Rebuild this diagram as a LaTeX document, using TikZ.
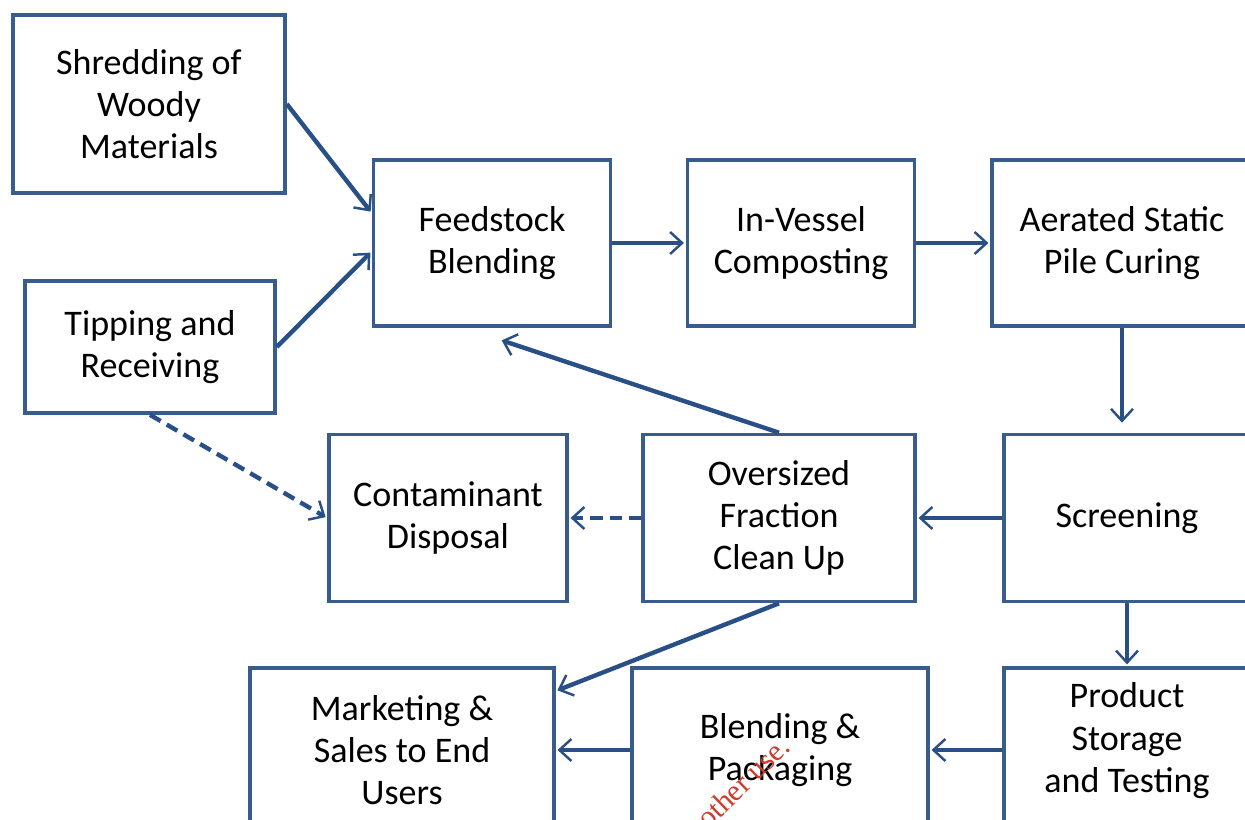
\documentclass[tikz,border=0pt]{standalone}
\usepackage{fontspec}
\setmainfont{Carlito}
\newfontfamily\markfont{Liberation Serif}
\usetikzlibrary{arrows.meta}
\definecolor{boxblue}{RGB}{56,93,140}
\definecolor{flowblue}{RGB}{40,80,135}
\definecolor{markred}{RGB}{205,60,45}

\begin{document}
\begin{tikzpicture}[x=0.02cm,y=-0.02cm,>={Straight Barb[length=2.4mm,width=4.4mm,line width=1.4pt]},proc node/.style={draw=boxblue,line width=2.1pt,fill=white,align=center,inner sep=2pt,font=\fontsize{20.5}{24}\selectfont},flow/.style={->,draw=flowblue,line width=2.5pt,shorten >=1pt},waste/.style={flow,dash pattern=on 7pt off 4pt}]
	\useasboundingbox (0,0) rectangle (1245,820);
	\clip (0,0) rectangle (1245,820);

	\node[proc node,minimum width=5.44cm,minimum height=3.56cm] (shred) at (149,104) {Shredding of\\Woody\\Materials};
	\node[proc node,minimum width=5cm,minimum height=2.64cm] (tip) at (150,347) {Tipping and\\Receiving};
	\node[proc node,minimum width=4.74cm,minimum height=3.32cm] (feed) at (492,243) {Feedstock\\Blending};
	\node[proc node,minimum width=4.54cm,minimum height=3.32cm] (vessel) at (801,243) {In-Vessel\\Composting};
	\node[proc node,minimum width=5.2cm,minimum height=3.32cm] (aer) at (1122,243) {Aerated Static\\Pile Curing};
	\node[proc node,minimum width=4.76cm,minimum height=3.34cm] (contam) at (448,518) {Contaminant\\Disposal};
	\node[proc node,minimum width=5.44cm,minimum height=3.34cm] (over) at (779,518) {Oversized\\Fraction\\Clean Up};
	\node[proc node,minimum width=4.92cm,minimum height=3.34cm] (screen) at (1127,518) {Screening};
	\node[proc node,minimum width=6.08cm,minimum height=3.28cm] (market) at (402,750) {Marketing \&\\Sales to End\\Users};
	\node[proc node,minimum width=5.92cm,minimum height=3.28cm] (blend) at (780,750) {Blending \&\\Packaging};
	\node[proc node,minimum width=4.92cm,minimum height=3.28cm,text depth=0.5cm] (store) at (1127,750) {Product\\Storage\\and Testing};

	\node[text=markred,font=\markfont\fontsize{17}{17}\selectfont,rotate=44] (mark) at (743,782) {other use.};

	\draw[flow] (shred.east) -- (feed.166);
	\draw[flow] (tip.east) -- (feed.184);
	\draw[flow] (feed.east) -- (vessel.west);
	\draw[flow] (vessel.east) -- (aer.west);
	\draw[flow,shorten >=0.2cm] (aer.south) -- (aer.south |- screen.north);
	\draw[flow] (screen.west) -- (over.east);
	\draw[waste] (over.west) -- (contam.east);
	\draw[waste] (tip.south) -- (contam.west);
	\draw[flow] (over.north) -- ([xshift=0.16cm,yshift=-0.24cm]feed.south);
	\draw[flow] (over.south) -- (market.21.5);
	\draw[flow] (screen.south) -- (store.north);
	\draw[flow] (store.west) -- (blend.east);
	\draw[flow] (blend.west) -- (market.east);
\end{tikzpicture}
\end{document}
